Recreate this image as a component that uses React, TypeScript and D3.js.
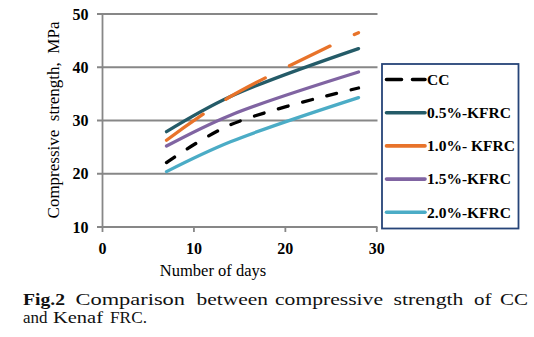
import React from "react";
import * as d3 from "d3";

const days = [7, 14, 28];
const seriesNames = ["CC", "0.5%-KFRC", "1.0%- KFRC", "1.5%-KFRC", "2.0%-KFRC"];
const ccValues = [22.1, 29.2, 36.1];
const kfrc05Values = [27.9, 34.5, 43.5];
const kfrc10Values = [26.3, 34.5, 46.5];
const kfrc15Values = [25.2, 31.0, 39.1];
const kfrc20Values = [20.4, 26.0, 34.3];
const xTicks = [0, 10, 20, 30];
const yTicks = [10, 20, 30, 40, 50];

const seriesValues = [ccValues, kfrc05Values, kfrc10Values, kfrc15Values, kfrc20Values];
const colors = ["#000000", "#245B68", "#E8732A", "#8064A2", "#4BACC6"];
const dashes = ["10,15", null, "45,27", null, null];
const legendDashes = ["15,11", null, null, null, null];

const captionLine1 = [
  { t: "Fig.2", x: 23, w: 42, bold: true },
  { t: "Comparison", x: 75.5, w: 109.5, bold: false },
  { t: "between", x: 196.5, w: 71.5, bold: false },
  { t: "compressive", x: 275, w: 108, bold: false },
  { t: "strength", x: 393.5, w: 70, bold: false },
  { t: "of", x: 474, w: 17.5, bold: false },
  { t: "CC", x: 500, w: 28, bold: false },
];
const captionLine2 = [
  { t: "and", x: 23, w: 24.5 },
  { t: "Kenaf", x: 53, w: 50 },
  { t: "FRC.", x: 110, w: 37 },
];

export default function App() {
  const x = d3.scaleLinear().domain([0, 30]).range([102.5, 376.8]);
  const y = d3.scaleLinear().domain([10, 50]).range([227, 14]);
  const line = d3
    .line<number>()
    .x((_, i) => x(days[i]))
    .y((d) => y(d))
    .curve(d3.curveCatmullRom.alpha(0.5));

  const gridColor = "#878787";
  const serif = "'Liberation Serif', 'Times New Roman', serif";
  const legendY0 = 79.5;
  const legendStep = 33.2;

  return (
    <svg
      width={534}
      height={337}
      style={{ position: "absolute", left: 0, top: 0, background: "#fff" }}
    >
      {yTicks.map((t) => (
        <line key={"g" + t} x1={97} x2={377.5} y1={y(t)} y2={y(t)} stroke={gridColor} strokeWidth={1.8} />
      ))}
      <line x1={x(0)} x2={x(0)} y1={y(50)} y2={y(10)} stroke={gridColor} strokeWidth={1.8} />
      {xTicks.map((t) => (
        <line key={"xt" + t} x1={x(t)} x2={x(t)} y1={y(10)} y2={y(10) + 5} stroke={gridColor} strokeWidth={1.8} />
      ))}
      {yTicks.map((t) => (
        <text
          key={"yl" + t}
          x={88.5}
          y={y(t) + 5.5}
          textAnchor="end"
          fontFamily={serif}
          fontWeight="bold"
          fontSize={16}
          fill="#000"
        >
          {t}
        </text>
      ))}
      {xTicks.map((t) => (
        <text
          key={"xl" + t}
          x={x(t)}
          y={254}
          textAnchor="middle"
          fontFamily={serif}
          fontWeight="bold"
          fontSize={16}
          fill="#000"
        >
          {t}
        </text>
      ))}
      <text x={213} y={275.5} textAnchor="middle" fontFamily={serif} fontSize={16.5} fill="#000">
        Number of days
      </text>
      <text
        transform={`translate(59,120) rotate(-90)`}
        textAnchor="middle"
        fontFamily={serif}
        fontSize={17}
        fill="#000"
        style={{ whiteSpace: "pre" }}
      >
        {"Compressive  strength,  MPa"}
      </text>
      {seriesValues.map((vals, i) => (
        <path
          key={"s" + i}
          d={line(vals) || ""}
          fill="none"
          stroke={colors[i]}
          strokeWidth={3.3}
          strokeLinecap="round"
          strokeDasharray={dashes[i] || undefined}
        />
      ))}
      <rect x={382} y={64} width={136.5} height={164.5} fill="#fff" stroke="#264478" strokeWidth={1.8} />
      {seriesNames.map((name, i) => {
        const ly = legendY0 + i * legendStep;
        return (
          <g key={"lg" + i}>
            <line
              x1={386.5}
              x2={425}
              y1={ly}
              y2={ly}
              stroke={colors[i]}
              strokeWidth={3.6}
              strokeLinecap="round"
              strokeDasharray={legendDashes[i] || undefined}
            />
            <text x={427} y={ly + 5.3} fontFamily={serif} fontWeight="bold" fontSize={15.5} fill="#000" style={{ whiteSpace: "pre" }}>
              {name}
            </text>
          </g>
        );
      })}
      {captionLine1.map((w) => (
        <text
          key={"c1" + w.t}
          x={w.x}
          y={304.5}
          fontFamily={serif}
          fontWeight={w.bold ? "bold" : "normal"}
          fontSize={17}
          textLength={w.w}
          lengthAdjust="spacingAndGlyphs"
          fill="#111"
        >
          {w.t}
        </text>
      ))}
      {captionLine2.map((w) => (
        <text
          key={"c2" + w.t}
          x={w.x}
          y={323}
          fontFamily={serif}
          fontSize={17}
          textLength={w.w}
          lengthAdjust="spacingAndGlyphs"
          fill="#111"
        >
          {w.t}
        </text>
      ))}
    </svg>
  );
}
